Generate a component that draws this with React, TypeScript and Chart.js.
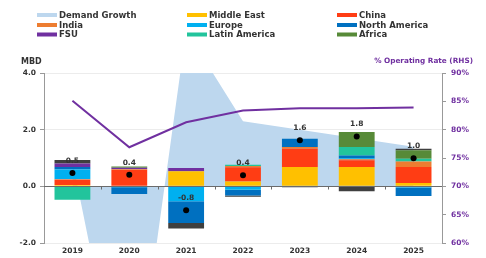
import React, { useEffect, useRef } from 'react';
import { Chart, registerables } from 'chart.js';
Chart.register(...registerables);

const years = ['2019', '2020', '2021', '2022', '2023', '2024', '2025'];
const demandGrowth = [0.9, -9.0, 5.5, 2.3, 2.0, 1.7, 1.4];
const middleEast = [0.05, 0, 0.53, 0.17, 0.68, 0.68, 0.12];
const china = [0.18, 0.58, 0, 0.5, 0.65, 0.24, 0.56];
const india = [0.02, 0.02, 0, 0.05, 0.06, 0.04, 0.2];
const europe = [0.34, -0.03, -0.53, -0.12, 0, 0.03, -0.04];
const northAmerica = [0.09, -0.24, -0.76, -0.2, 0.29, 0.1, -0.3];
const fsu = [0.13, 0.06, 0.12, 0, 0, 0, 0];
const latinAmerica = [-0.47, 0, 0, 0.04, 0, 0.3, 0.09];
const africa = [0, 0.04, 0, 0, 0, 0.53, 0.3];
const other = [0.12, 0, -0.2, -0.05, -0.03, -0.17, 0.06];
const netChange = [0.47, 0.41, -0.84, 0.39, 1.63, 1.76, 0.99];
const operatingRate = [85.1, 76.9, 81.3, 83.4, 83.8, 83.8, 83.9];

const leftTitle = 'MBD';
const rightTitle = '% Operating Rate (RHS)';

const C = {
  demand: '#BDD7EE',
  me: '#FFC000',
  china: '#FF3D14',
  india: '#ED7D31',
  europe: '#00B0F0',
  na: '#0070C0',
  fsu: '#7030A0',
  latam: '#22C49C',
  africa: '#578A38',
  other: '#3F3F3F',
};

const legendRows = [
  [['Demand Growth', C.demand], ['Middle East', C.me], ['China', C.china]],
  [['India', C.india], ['Europe', C.europe], ['North America', C.na]],
  [['FSU', C.fsu], ['Latin America', C.latam], ['Africa', C.africa]],
];

const FONT = '"DejaVu Sans", sans-serif';

const decor = {
  id: 'decor',
  afterDatasetsDraw(chart: any) {
    const ctx = chart.ctx;
    const y = chart.scales.y;
    const x = chart.scales.x;
    const area = chart.chartArea;
    const y0 = Math.round(y.getPixelForValue(0)) + 0.5;
    ctx.save();
    ctx.strokeStyle = '#6b6b6b';
    ctx.lineWidth = 1;
    ctx.beginPath();
    ctx.moveTo(area.left, y0);
    ctx.lineTo(area.right, y0);
    for (let i = 0; i < years.length - 1; i++) {
      const bx = Math.round((x.getPixelForValue(i) + x.getPixelForValue(i + 1)) / 2) + 0.5;
      ctx.moveTo(bx, y0);
      ctx.lineTo(bx, y0 + 3);
    }
    ctx.stroke();
    // net labels
    const meta = chart.getDatasetMeta(chart.data.datasets.length - 1);
    ctx.fillStyle = '#333';
    ctx.font = `bold 7.5px ${FONT}`;
    ctx.textAlign = 'center';
    ctx.textBaseline = 'middle';
    meta.data.forEach((pt: any, i: number) => {
      ctx.fillText(netChange[i].toFixed(1), pt.x, pt.y - 12);
    });
    ctx.restore();
  },
  afterDraw(chart: any) {
    const ctx = chart.ctx;
    ctx.save();
    ctx.textBaseline = 'middle';
    ctx.textAlign = 'left';
    ctx.font = `bold 8.5px ${FONT}`;
    const colBox = [37, 187, 337];
    const rowY = [15, 25, 34.5];
    legendRows.forEach((row, r) => {
      row.forEach(([label, color], c) => {
        ctx.fillStyle = color as string;
        ctx.fillRect(colBox[c], rowY[r] - 2, 20, 4);
        ctx.fillStyle = '#333';
        ctx.fillText(label as string, colBox[c] + 22, rowY[r] + 0.5);
      });
    });
    ctx.font = `bold 8px ${FONT}`;
    ctx.fillStyle = '#333';
    ctx.fillText(leftTitle, 21, 61.5);
    ctx.font = `bold 7.3px ${FONT}`;
    ctx.fillStyle = '#7030A0';
    ctx.textAlign = 'right';
    ctx.fillText(rightTitle, 473, 61);
    ctx.restore();
  },
};

export default function App() {
  const ref = useRef<HTMLCanvasElement | null>(null);
  useEffect(() => {
    if (!ref.current) return;
    const bar = (label: string, data: number[], color: string) => ({
      type: 'bar' as const,
      label,
      data,
      backgroundColor: color,
      borderWidth: 0,
      stack: 'regions',
      order: 1,
      yAxisID: 'y',
      barPercentage: 0.63,
      categoryPercentage: 1,
    });
    const chart = new Chart(ref.current, {
      type: 'bar',
      data: {
        labels: years,
        datasets: [
          {
            type: 'line',
            label: 'Demand Growth',
            data: demandGrowth,
            backgroundColor: C.demand,
            borderWidth: 0,
            borderColor: 'transparent',
            pointRadius: 0,
            fill: 'origin',
            tension: 0,
            order: 10,
            stack: 'dg',
            yAxisID: 'y',
          },
          bar('Middle East', middleEast, C.me),
          bar('China', china, C.china),
          bar('India', india, C.india),
          bar('Europe', europe, C.europe),
          bar('North America', northAmerica, C.na),
          bar('FSU', fsu, C.fsu),
          bar('Latin America', latinAmerica, C.latam),
          bar('Africa', africa, C.africa),
          bar('Other', other, C.other),
          {
            type: 'line',
            label: 'Operating Rate',
            data: operatingRate,
            borderColor: '#7030A0',
            borderWidth: 2,
            pointRadius: 0,
            fill: false,
            tension: 0,
            order: 0,
            stack: 'op',
            yAxisID: 'y1',
          },
          {
            type: 'line',
            label: 'Net',
            data: netChange,
            showLine: false,
            pointRadius: 3,
            pointBackgroundColor: '#000',
            pointBorderColor: '#000',
            pointBorderWidth: 0,
            order: -1,
            stack: 'net',
            yAxisID: 'y',
          },
        ] as any,
      },
      options: {
        responsive: false,
        animation: false,
        devicePixelRatio: 1,
        layout: { padding: { top: 73, left: 0, right: 0, bottom: 0 } },
        plugins: { legend: { display: false }, tooltip: { enabled: false } },
        scales: {
          x: {
            stacked: true,
            offset: true,
            grid: { display: false, drawTicks: false },
            border: { display: false },
            afterFit: (s: any) => { s.height = 15; },
            ticks: { padding: 4, color: '#333', font: { family: FONT, size: 7.5, weight: 'bold' } },
          },
          y: {
            stacked: true,
            position: 'left',
            min: -2,
            max: 4,
            afterFit: (s: any) => { s.width = 44; },
            ticks: {
              stepSize: 2,
              padding: 4,
              color: '#333',
              font: { family: FONT, size: 7.5, weight: 'bold' },
              callback: (v: any) => Number(v).toFixed(1),
            },
            grid: {
              color: (c: any) => (c.tick && c.tick.value === 0 ? 'rgba(0,0,0,0)' : '#ececec'),
              tickColor: '#999',
              tickLength: 4,
            },
            border: { color: '#999' },
          },
          y1: {
            position: 'right',
            min: 60,
            max: 90,
            afterFit: (s: any) => { s.width = 44; },
            ticks: {
              stepSize: 5,
              padding: 5,
              color: '#7030A0',
              font: { family: FONT, size: 7.5, weight: 'bold' },
              callback: (v: any) => `${v}%`,
            },
            grid: { drawOnChartArea: false, tickColor: '#999', tickLength: 4 },
            border: { color: '#999' },
          },
        },
      } as any,
      plugins: [decor],
    });
    return () => chart.destroy();
  }, []);
  return (
    <div style={{ position: 'fixed', left: 0, top: 0, width: 486, height: 258, background: '#fff' }}>
      <canvas ref={ref} width={486} height={258} style={{ display: 'block' }} />
    </div>
  );
}
